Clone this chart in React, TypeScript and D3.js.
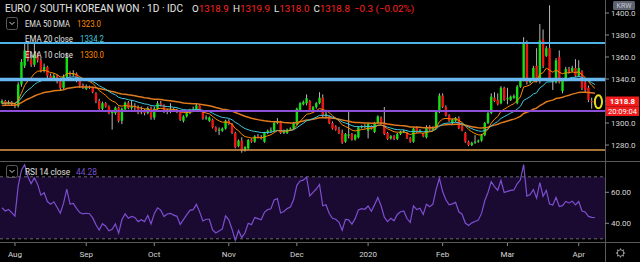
import React, { useEffect } from 'react';
import * as d3 from 'd3';

// ---- data (EUR/KRW daily) ----
const firstDay = '2019-07-26';
const lastDay = '2020-04-08';

const opens = [
  1318.2,1320,1318.2,1319,1317.3,1315.5,1335,1352,1366,1358,
  1353,1362,1357,1348,1351,1343,1340.5,1343,1338,1332,
  1342,1345,1344,1345,1339,1334,1331,1333,1332.5,1327,
  1320,1313,1318,1315,1309,1309,1314,1302,1312.5,1318.5,
  1313.5,1315,1314,1310,1311,1309,1313.5,1305,1313,1318,
  1316,1310,1312,1312.5,1311,1310,1302,1306,1309,1312,
  1312,1316,1311,1304,1302,1303,1296,1293,1293,1295,
  1302,1299,1291,1279,1284,1275,1277,1285,1283,1288,
  1287,1283,1291,1293,1293,1300,1301,1291,1291,1294,
  1295,1299,1311,1317,1318,1320,1311,1314.5,1318,1323,
  1307,1306,1300,1297,1294,1291,1283,1289,1290,1285,
  1287,1296,1297,1293,1297,1292,1300,1305,1300,1291,
  1286,1288,1285.5,1290,1292,1291,1286.5,1283,1296,1292,
  1290,1287,1297,1294,1296,1310,1325,1314.5,1307,1300,
  1302,1304.5,1297,1291,1283,1280,1282,1283,1284,1289,
  1300,1309,1323,1321,1318,1332,1322,1321,1323,1318,
  1333,1339,1372,1337,1340,1352,1338,1376,1361,1368,
  1339,1337,1360,1329,1339,1349,1347,1350,1343,1347,
  1337,1332,1320,1318.9,
];
const highs = [
  1321.5,1321,1320.5,1320,1318.5,1337,1358,1373,1372,1362,
  1373,1364,1359,1354,1352,1345,1345,1344,1339,1344,
  1364,1347,1348,1346,1340,1336,1335,1334,1333,1328,
  1322,1319.5,1319,1316,1312,1315,1315,1314,1319.5,1320,
  1321,1318,1316,1315,1313,1315,1315,1315,1320,1320,
  1317,1313,1318,1314,1313,1311,1307,1310,1313,1315,
  1318,1317,1312,1307,1306,1304,1297,1296,1296,1303,
  1303.5,1300,1292,1285,1287,1279,1285.5,1286,1289,1290,
  1289,1292,1294,1296,1301,1304.5,1302,1294,1295,1296,
  1301,1314,1319,1320.5,1326,1321,1315.5,1319,1328,1326,
  1312,1307,1301.5,1298,1296.5,1294,1291,1310,1291,1290,
  1297,1298,1299,1300,1298,1301,1307,1306,1314.5,1292,
  1289,1289,1291,1293,1294,1292,1287.5,1296,1297,1294.5,
  1291,1298,1298,1297,1311,1327,1327,1316,1308,1304,
  1305.5,1306,1298,1292,1284,1283,1289,1285,1290,1301,
  1311,1327,1328,1327,1333.5,1333,1332,1325,1326,1334.5,
  1340,1378,1375,1341,1352,1368,1390,1385,1370,1407,
  1340,1359,1366,1341,1351,1351,1352,1358,1357,1348,
  1339,1334,1323,1319.9,
];
const lows = [
  1317,1316.5,1317,1315.5,1313.5,1314,1333,1350,1356,1351,
  1351,1355,1346,1346,1341,1339,1339,1336,1330,1331,
  1340,1342,1342,1337,1332,1331,1330,1331,1327,1318,
  1312,1311.5,1314,1308,1294,1307.5,1300.5,1299,1311,1312.5,
  1312,1311,1308,1308,1307,1308,1303,1303,1312,1315,
  1309,1308,1309,1310,1309,1302,1300.5,1305,1308,1310,
  1311,1310,1303,1303,1301,1295,1292,1289,1292,1294,
  1298,1290,1277,1278,1273,1274,1276,1282,1282,1286,
  1285,1282,1290,1291,1292,1299,1290,1290,1290,1293,
  1294,1298,1310,1316,1316,1310,1310,1313,1317,1305,
  1304,1299,1294,1293,1290,1281,1282,1286,1284,1284,
  1286,1295,1295,1286,1294,1291,1299,1299,1289,1284.5,
  1285,1284.5,1284.5,1289,1291,1285.5,1282,1282,1291,1291.5,
  1287,1286,1293,1293,1295,1309,1313.5,1306,1301,1299,
  1301,1294.5,1292.5,1282,1279,1279,1281,1282,1283,1288,
  1299,1308,1319,1316,1317,1320,1317,1320,1322,1317,
  1332,1338,1335,1336,1339,1337,1336,1350,1360,1338,
  1330,1336,1336,1327,1338,1345,1346,1342,1342,1330,
  1328,1319,1313,1318,
];
const closes = [
  1320,1318.2,1319,1317.3,1315.5,1335,1355.5,1366,1358,1353,
  1362,1357,1348,1351,1343,1340.5,1343,1338,1332,1342,
  1360,1344,1345,1339,1334,1332.5,1333,1332.5,1328,1320,
  1313,1318,1315,1309,1310,1314,1302,1313,1318.5,1313.5,
  1315,1314,1309.5,1311,1309,1313.5,1305,1313,1318,1316,
  1310,1312,1312.5,1311,1310,1303,1306,1309,1312,1312.5,
  1316,1311,1304,1305,1305,1296,1293,1294,1295,1302,
  1299,1291,1278,1284,1275,1278,1284.5,1283,1288,1287,
  1286,1291,1293,1293.5,1300,1301,1291,1292,1294,1295,
  1300,1313,1318,1319,1322.5,1311,1314.5,1318,1323,1307,
  1308,1300,1295,1294,1291,1282,1290,1289.5,1285,1289,
  1296,1297,1296.5,1299,1295,1300,1306,1300,1290,1285.5,
  1288,1285.5,1290,1292,1292.5,1286.5,1283,1295,1292,1293,
  1288,1296,1294,1296,1310,1325,1314.5,1307,1302,1303,
  1304.5,1295.5,1293,1283,1280,1282,1283,1284,1289,1300,
  1309,1324,1320,1317,1332,1321,1322.5,1324,1324.5,1333,
  1339,1373,1337,1340,1350,1338,1375,1352,1368,1340,
  1338,1357,1337,1339,1349,1346,1350,1343,1350,1332,
  1330,1321,1319.1,1318.8,
];

// indicator starting values (as seen at the left edge of the chart)
const ema10Start = 1318;
const ema20Start = 1318;
const ema50Start = 1316;
const rsiStartGain = 1.6;
const rsiStartLoss = 1.6;

const monthTicks = [
  { date: '2019-08-01', label: 'Aug' },
  { date: '2019-09-02', label: 'Sep' },
  { date: '2019-10-01', label: 'Oct' },
  { date: '2019-11-01', label: 'Nov' },
  { date: '2019-12-02', label: 'Dec' },
  { date: '2020-01-01', label: '2020' },
  { date: '2020-02-03', label: 'Feb' },
  { date: '2020-03-02', label: 'Mar' },
  { date: '2020-04-01', label: 'Apr' },
];
const priceTicks = [1280, 1300, 1320, 1340, 1360, 1380, 1400];
const rsiTicks = [40, 60];
const levelPrices = [1372.7, 1339.6, 1310.9, 1275.5];

const titleText = 'EURO / SOUTH KOREAN WON · 1D · IDC';
const ohlcLabels = ['O', 'H', 'L', 'C'];
const ohlcValues = ['1318.9', '1319.9', '1318.0', '1318.8'];
const changeText = '−0.3 (−0.02%)';
const emaLegendNames = ['EMA 50 DMA', 'EMA 20 close', 'EMA 10 close'];
const emaLegendValues = ['1323.0', '1334.2', '1330.0'];
const rsiLegendName = 'RSI 14 close';
const rsiLegendValue = '44.28';
const lastPriceText = '1318.8';
const countdownText = '20:09:04';

// ---- helpers ----
function tradingDays(a: string, b: string): string[] {
  const out: string[] = [];
  const d = new Date(a + 'T00:00:00Z');
  const e = new Date(b + 'T00:00:00Z');
  while (d <= e) {
    const wd = d.getUTCDay();
    if (wd !== 0 && wd !== 6) out.push(d.toISOString().slice(0, 10));
    d.setUTCDate(d.getUTCDate() + 1);
  }
  return out;
}
function ema(vals: number[], period: number, start: number): number[] {
  const k = 2 / (period + 1);
  const out: number[] = [];
  let e = start;
  vals.forEach((v, i) => {
    e = i === 0 ? start : e + k * (v - e);
    out.push(e);
  });
  return out;
}
function rsiCalc(vals: number[], period: number, g0: number, l0: number): number[] {
  let ag = g0, al = l0;
  const out = [100 - 100 / (1 + ag / al)];
  for (let i = 1; i < vals.length; i++) {
    const ch = vals[i] - vals[i - 1];
    ag = (ag * (period - 1) + Math.max(ch, 0)) / period;
    al = (al * (period - 1) + Math.max(-ch, 0)) / period;
    out.push(100 - 100 / (1 + ag / al));
  }
  return out;
}

const W = 640, H = 262;
const PANE_R = 605;
const MAIN_B = 161;
const RSI_B = 242;
const FONT = "Roboto, 'Noto Sans', sans-serif";

export default function App() {
  useEffect(() => {
    document.body.style.margin = '0';
    document.body.style.background = '#000';
  }, []);

  const days = tradingDays(firstDay, lastDay);
  const n = closes.length;
  const x = d3.scaleLinear().domain([0, n - 1]).range([2, 2 + 3.24 * (n - 1)]);
  const y = d3.scaleLinear().domain([1266.4, 1411.8]).range([160, 0]);
  const yr = d3.scaleLinear().domain([30, 70]).range([238.8, 176.8]);

  const e10 = ema(closes, 10, ema10Start);
  const e20 = ema(closes, 20, ema20Start);
  const e50 = ema(closes, 50, ema50Start);
  const rsi = rsiCalc(closes, 14, rsiStartGain, rsiStartLoss);

  const line = d3.line<number>().x((_, i) => x(i)).y((v) => y(v));
  const rline = d3.line<number>().x((_, i) => x(i)).y((v) => yr(v));

  const tickIdx = monthTicks.map((t) => ({ ...t, i: days.findIndex((d) => d >= t.date) }));

  const levelStyles = [
    { stroke: '#4fb3e8', w: 2 },
    { stroke: '#6ab8f2', w: 3.5 },
    { stroke: '#8c4fd6', w: 2 },
    { stroke: '#e39a4a', w: 1.6 },
  ];
  const bw = 2.4;
  const nameLens = [45, 48, 48];
  const valueX = [77, 80, 80];

  return (
    <svg width={W} height={H} style={{ position: 'fixed', left: 0, top: 0, display: 'block', background: '#000' }} fontFamily={FONT}>
      <defs>
        <clipPath id="mainClip"><rect x={0} y={0} width={PANE_R} height={MAIN_B} /></clipPath>
        <clipPath id="rsiClip"><rect x={0} y={MAIN_B + 1} width={PANE_R} height={RSI_B - MAIN_B - 1} /></clipPath>
      </defs>
      <rect x={0} y={0} width={W} height={H} fill="#000" />

      {/* main pane */}
      <g clipPath="url(#mainClip)">
        {closes.map((c, i) => {
          const o = opens[i];
          const up = c >= o;
          const top = y(Math.max(o, c));
          const bot = y(Math.min(o, c));
          return (
            <g key={i}>
              <line x1={x(i)} x2={x(i)} y1={y(highs[i])} y2={y(lows[i])} stroke="#b8b8b8" strokeWidth={1} />
              <rect x={x(i) - bw / 2} y={top} width={bw} height={Math.max(1, bot - top)} fill={up ? '#12e012' : '#f01616'} />
            </g>
          );
        })}
        <path d={line(e50) || ''} fill="none" stroke="#e07a1e" strokeWidth={1.5} />
        <path d={line(e20) || ''} fill="none" stroke="#3fc8dc" strokeWidth={1} />
        <path d={line(e10) || ''} fill="none" stroke="#ff8a00" strokeWidth={1} />
        {levelPrices.map((p, k) => (
          <line key={k} x1={0} x2={PANE_R} y1={y(p)} y2={y(p)} stroke={levelStyles[k].stroke} strokeWidth={levelStyles[k].w} />
        ))}
        <ellipse cx={x(n - 1) + 3.5} cy={y(closes[n - 1]) - 0.5} rx={3.6} ry={6.5} fill="none" stroke="#e6dc1e" strokeWidth={2} />
      </g>

      {/* RSI pane */}
      <g clipPath="url(#rsiClip)">
        <rect x={0} y={yr(70)} width={PANE_R} height={yr(30) - yr(70)} fill="#1a0930" />
        <line x1={0} x2={PANE_R} y1={yr(70)} y2={yr(70)} stroke="#6a6a70" strokeDasharray="3,3" />
        <line x1={0} x2={PANE_R} y1={yr(30)} y2={yr(30)} stroke="#6a6a70" strokeDasharray="3,3" />
        <path d={rline(rsi) || ''} fill="none" stroke="#7c4fd0" strokeWidth={1.2} />
      </g>

      {/* separators */}
      <line x1={0} x2={W} y1={MAIN_B + 0.5} y2={MAIN_B + 0.5} stroke="#5a5a5a" />
      <line x1={0} x2={W} y1={RSI_B + 0.5} y2={RSI_B + 0.5} stroke="#5a5a5a" />
      <line x1={PANE_R + 0.5} x2={PANE_R + 0.5} y1={0} y2={H} stroke="#5a5a5a" />

      {/* price axis */}
      {priceTicks.map((p) => (
        <g key={p}>
          <line x1={PANE_R} x2={PANE_R + 4} y1={y(p)} y2={y(p)} stroke="#8a8a8a" />
          <text x={611} y={y(p) + 3} fontSize={8} fill="#d6d6d6">{p.toFixed(1)}</text>
        </g>
      ))}
      <rect x={613} y={1} width={22} height={9} rx={1.5} fill="#5c6270" />
      <text x={624} y={8.3} fontSize={7} fill="#c8ccd4" textAnchor="middle">KRW</text>
      <rect x={606} y={96.5} width={33} height={10} fill="#f21b1b" />
      <text x={622.5} y={104.3} fontSize={8} fontWeight="bold" fill="#fff" textAnchor="middle">{lastPriceText}</text>
      <rect x={606} y={106.5} width={33} height={9.5} fill="#f21b1b" />
      <text x={622.5} y={114} fontSize={7.5} fill="#fff" textAnchor="middle">{countdownText}</text>

      {/* rsi axis */}
      {rsiTicks.map((v) => (
        <g key={v}>
          <line x1={PANE_R} x2={PANE_R + 4} y1={yr(v)} y2={yr(v)} stroke="#8a8a8a" />
          <text x={611} y={yr(v) + 3} fontSize={8} fill="#d6d6d6">{v.toFixed(2)}</text>
        </g>
      ))}

      {/* time axis */}
      {tickIdx.map((t) => (
        <g key={t.label}>
          <line x1={x(t.i)} x2={x(t.i)} y1={RSI_B + 1} y2={RSI_B + 4} stroke="#8a8a8a" />
          <text x={x(t.i)} y={257} fontSize={8} fill="#d6d6d6" textAnchor="middle">{t.label}</text>
        </g>
      ))}
      {/* gear */}
      <g transform="translate(620.5,253)" stroke="#9a9a9a" fill="none">
        <circle r={3.2} strokeWidth={1} />
        {d3.range(8).map((k) => {
          const a = (k * Math.PI) / 4;
          return <line key={k} x1={Math.cos(a) * 3.2} y1={Math.sin(a) * 3.2} x2={Math.cos(a) * 4.6} y2={Math.sin(a) * 4.6} strokeWidth={1.2} />;
        })}
      </g>

      {/* header */}
      <text x={5} y={12} fontSize={10.2} fill="#e6e6e6" textLength={178} lengthAdjust="spacingAndGlyphs">{titleText}</text>
      <text x={192} y={12} fontSize={9.8} fill="#e6e6e6">
        {ohlcLabels.map((l, k) => (
          <React.Fragment key={l}>
            <tspan fill="#e6e6e6" dx={k === 0 ? 0 : 4}>{l}</tspan>
            <tspan fill="#ff2020">{ohlcValues[k]}</tspan>
          </React.Fragment>
        ))}
        <tspan fill="#ff2020" dx={4}>{changeText}</tspan>
      </text>

      {/* legend */}
      <rect x={6.5} y={17.5} width={11} height={12} rx={2} fill="none" stroke="#5a5a5a" />
      <path d="M9.5,22 L12,24.5 L14.5,22" fill="none" stroke="#d0d0d0" strokeWidth={1} />
      {emaLegendNames.map((nm, k) => (
        <g key={nm}>
          <text x={25} y={26.5 + k * 15.5} fontSize={8.8} fill="#e0e0e0" textLength={nameLens[k]} lengthAdjust="spacingAndGlyphs">{nm}</text>
          <text x={valueX[k]} y={26.5 + k * 15.5} fontSize={8.8} fill={k === 1 ? '#3fc8dc' : '#ff8a00'} textLength={24} lengthAdjust="spacingAndGlyphs">{emaLegendValues[k]}</text>
        </g>
      ))}
      <rect x={6.5} y={165.5} width={11} height={12} rx={2} fill="none" stroke="#5a5a5a" />
      <path d="M9.5,170 L12,172.5 L14.5,170" fill="none" stroke="#d0d0d0" strokeWidth={1} />
      <text x={25} y={175} fontSize={8.8} fill="#e0e0e0" textLength={45} lengthAdjust="spacingAndGlyphs">{rsiLegendName}</text>
      <text x={76} y={175} fontSize={8.8} fill="#7c4fd0" textLength={21} lengthAdjust="spacingAndGlyphs">{rsiLegendValue}</text>
    </svg>
  );
}
